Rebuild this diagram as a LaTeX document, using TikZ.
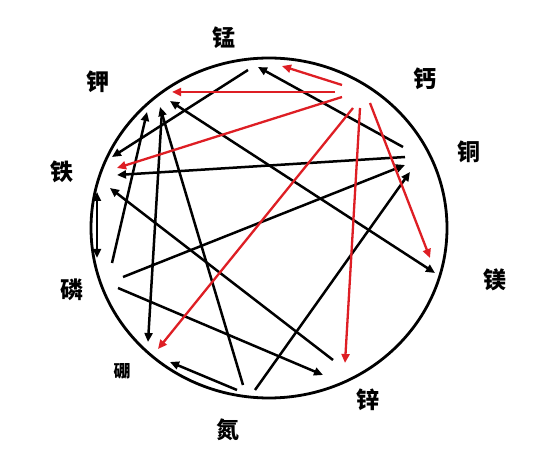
\documentclass[tikz,border=0pt]{standalone}
\usepackage{fontspec}
\newfontfamily\cjk{Noto Sans CJK SC}
\usetikzlibrary{arrows.meta,shapes.geometric}
\begin{document}
\begin{tikzpicture}[x=1pt,y=-1pt,
  lbl/.style={font=\cjk\bfseries\fontsize{23}{25}\selectfont, inner sep=0pt},
  lblsmall/.style={font=\cjk\bfseries\fontsize{17}{19}\selectfont, inner sep=0pt},
  blk/.style={draw=black, line width=2.5pt, -{Triangle[length=9pt,width=8pt]}},
  blkboth/.style={draw=black, line width=2.5pt, {Triangle[length=9pt,width=8pt]}-{Triangle[length=9pt,width=8pt]}},
  red/.style={draw=redline, line width=2.3pt, -{Triangle[length=9pt,width=8pt]}},
]
\definecolor{redline}{RGB}{222,30,36}
\useasboundingbox (0,0) rectangle (560,462);
\fill[white] (0,0) rectangle (560,462);
% circle
\node[draw=black, line width=2.8pt, ellipse, minimum width=356pt, minimum height=340pt, inner sep=0pt] (ring) at (269,228) {};
% labels
\node[lbl] (mn) at (224,38) {锰};
\node[lbl] (ca) at (425,79) {钙};
\node[lbl] (cu) at (469,152) {铜};
\node[lbl] (mg) at (495,280) {镁};
\node[lbl] (zn) at (368,400) {锌};
\node[lbl] (n)  at (228,430) {氮};
\node[lblsmall] (b) at (122,371) {硼};
\node[lbl] (p)  at (72,290) {磷};
\node[lbl] (fe) at (62,172) {铁};
\node[lbl] (k)  at (98,82) {钾};
% endpoints
\coordinate (b1s) at (403,147); \coordinate (b1e) at (258,67);
\coordinate (b2s) at (248,70);  \coordinate (b2e) at (112,157);
\coordinate (b3s) at (405,157); \coordinate (b3e) at (117,175);
\coordinate (b4s) at (333,360); \coordinate (b4e) at (110,188);
\coordinate (b5s) at (97,192);  \coordinate (b5e) at (97,258);
\coordinate (b6s) at (112,263); \coordinate (b6e) at (147,112);
\coordinate (b7s) at (162,110); \coordinate (b7e) at (148,342);
\coordinate (b8s) at (243,385); \coordinate (b8e) at (160,107);
\coordinate (b9s) at (170,101); \coordinate (b9e) at (435,273);
\coordinate (b10s) at (123,277); \coordinate (b10e) at (405,165);
\coordinate (b11s) at (255,390); \coordinate (b11e) at (410,172);
\coordinate (b12s) at (118,288); \coordinate (b12e) at (323,375);
\coordinate (b13s) at (237,390); \coordinate (b13e) at (170,362);
\coordinate (r1s) at (342,85);  \coordinate (r1e) at (282,66);
\coordinate (r2s) at (335,92);  \coordinate (r2e) at (172,92);
\coordinate (r3s) at (342,97);  \coordinate (r3e) at (117,168);
\coordinate (r4s) at (353,108); \coordinate (r4e) at (158,349);
\coordinate (r5s) at (360,108); \coordinate (r5e) at (345,363);
\coordinate (r6s) at (370,103); \coordinate (r6e) at (430,258);
% black connectors
\draw[blk] (b1s) -- (b1e);
\draw[blk] (b2s) -- (b2e);
\draw[blk] (b3s) -- (b3e);
\draw[blk] (b4s) -- (b4e);
\draw[blkboth] (b5s) -- (b5e);
\draw[blk] (b6s) -- (b6e);
\draw[blk] (b7s) -- (b7e);
\draw[blk] (b8s) -- (b8e);
\draw[blkboth] (b9s) -- (b9e);
\draw[blk] (b10s) -- (b10e);
\draw[blk] (b11s) -- (b11e);
\draw[blk] (b12s) -- (b12e);
\draw[blk] (b13s) -- (b13e);
% red connectors
\draw[red] (r1s) -- (r1e);
\draw[red] (r2s) -- (r2e);
\draw[red] (r3s) -- (r3e);
\draw[red] (r4s) -- (r4e);
\draw[red] (r5s) -- (r5e);
\draw[red] (r6s) -- (r6e);
\end{tikzpicture}
\end{document}
